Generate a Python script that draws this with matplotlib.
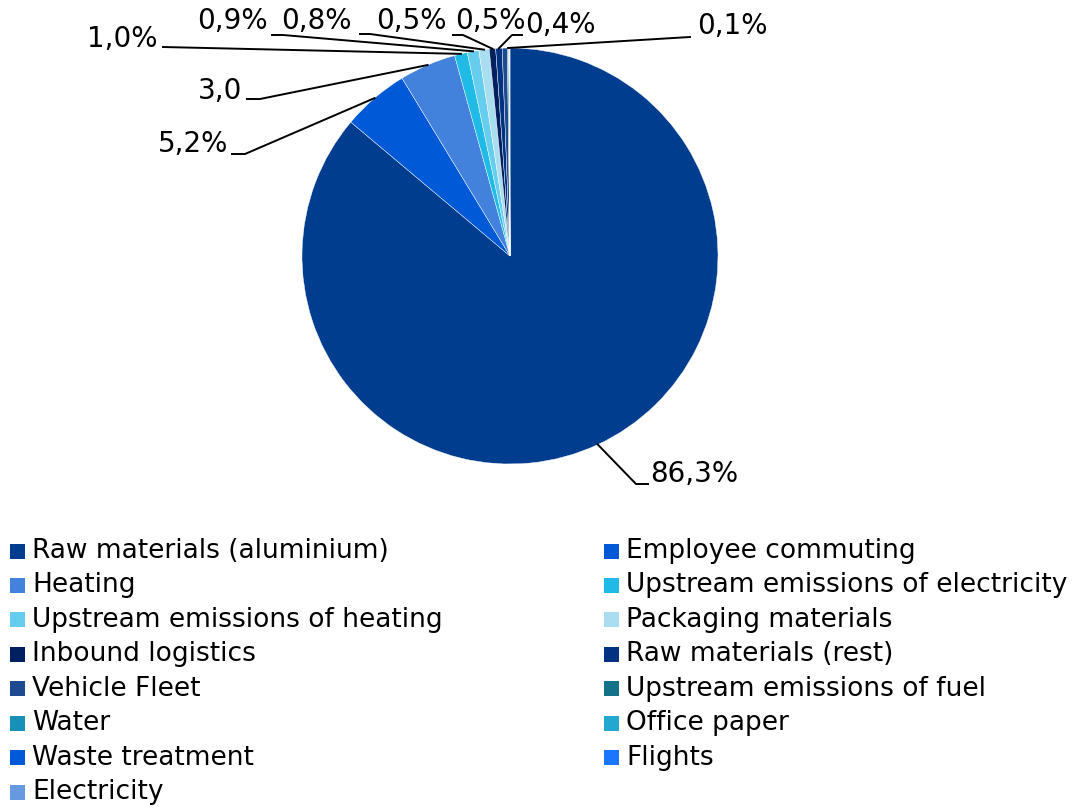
import matplotlib
matplotlib.use("Agg")
import matplotlib.pyplot as plt
from matplotlib.patches import Rectangle
import numpy as np

categories = [
    "Raw materials (aluminium)", "Employee commuting", "Heating",
    "Upstream emissions of electricity", "Upstream emissions of heating",
    "Packaging materials", "Inbound logistics", "Raw materials (rest)",
    "Vehicle Fleet", "Upstream emissions of fuel", "Water", "Office paper",
    "Waste treatment", "Flights", "Electricity",
]
values = [86.3, 5.2, 4.4, 1.0, 0.9, 0.8, 0.5, 0.5, 0.4, 0.1, 0.02, 0.02, 0.02, 0.02, 0.02]
label_texts = ["86,3%", "5,2%", "3,0", "1,0%", "0,9%", "0,8%", "0,5%", "0,5%", "0,4%", "0,1%",
               None, None, None, None, None]
colors = ["#003d8f", "#0059d6", "#4282dc", "#1fbbe6", "#66cdef", "#a8def0",
          "#002060", "#003282", "#1e4b8f", "#12728a", "#1790b8", "#22a8d0",
          "#0059d6", "#1a75ff", "#6699e0"]

plt.rcParams['font.family'] = ['DejaVu Sans']
W, H = 1075, 809
fig = plt.figure(figsize=(W / 100, H / 100), dpi=100)

cx, cy, R = 510, 256, 208
ax = fig.add_axes([(cx - R) / W, (H - cy - R) / H, 2 * R / W, 2 * R / H])

wedges, _ = ax.pie(values, colors=colors, startangle=90, counterclock=False, radius=1,
                   wedgeprops=dict(edgecolor="white", linewidth=0.3))
ax.set_xlim(-1, 1)
ax.set_ylim(-1, 1)
ax.set_aspect("auto")
ax.axis("off")

def d(px, py):
    return ((px - cx) / R, (cy - py) / R)

# label layout in pixels: (text_x, text_y, ha, [line points after edge] or None)
layout = [
    (650, 474, "left", [(636, 484), (648, 484)]),
    (228, 144, "right", [(245, 154), (232, 154)]),
    (242, 91, "right", [(260, 99), (247, 99)]),
    (158, 39, "right", [(163, 47)]),
    (268, 21, "right", [(283, 35), (272, 35)]),
    (352, 21, "right", [(370, 34), (360, 34)]),
    (447, 21, "right", [(463, 35), (453, 35)]),
    (455, 21, "left", [(512, 35), (522, 35)]),
    (525, 25, "left", None),
    (697, 26, "left", [(690, 37)]),
]

fs = 20
for i, lay in enumerate(layout):
    w = wedges[i]
    if lay[3]:
        mid = np.deg2rad((w.theta1 + w.theta2) / 2)
        pts = [(np.cos(mid), np.sin(mid))] + [d(*p) for p in lay[3]]
        xs, ys = zip(*pts)
        ax.plot(xs, ys, color="black", lw=1.4, clip_on=False)
    tx, ty = d(lay[0], lay[1])
    ax.text(tx, ty, label_texts[i], ha=lay[2], va="center", fontsize=fs, color="black")

# legend (row-major, two columns)
for k, (name, col) in enumerate(zip(categories, colors)):
    r, c = divmod(k, 2)
    y = 551 + r * 34.45
    x0 = 10 if c == 0 else 604
    fig.add_artist(Rectangle((x0 / W, (H - y - 7.5) / H), 15 / W, 15 / H,
                             transform=fig.transFigure, facecolor=col, edgecolor="none"))
    fig.text((x0 + 22) / W, (H - y) / H, name, ha="left", va="center", fontsize=19, color="black")

fig.savefig("out.png", dpi=100)
